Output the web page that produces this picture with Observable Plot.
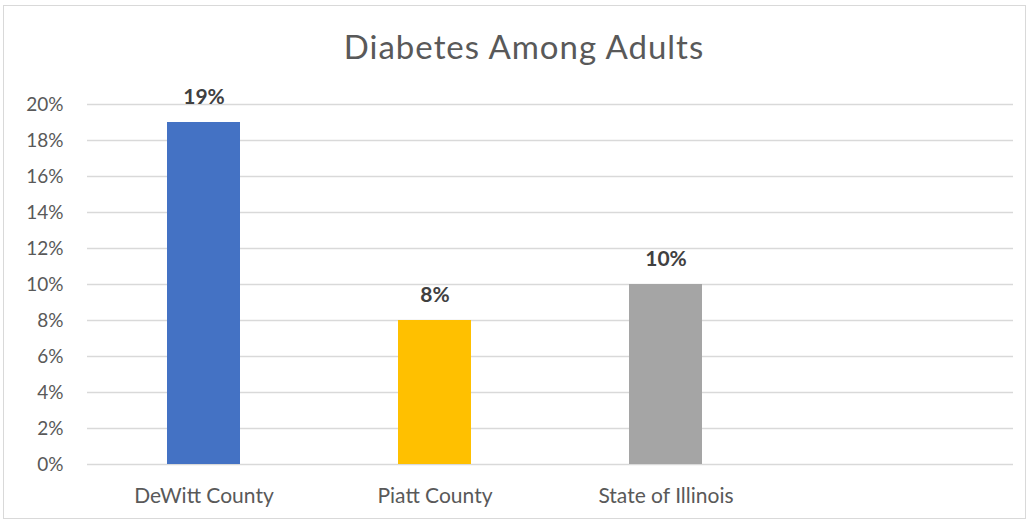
<!DOCTYPE html>
<html>
<head>
<meta charset="utf-8">
<script src="https://cdn.jsdelivr.net/npm/d3@7"></script>
<script src="https://cdn.jsdelivr.net/npm/@observablehq/plot@0.6"></script>
<style>
  html, body { margin: 0; padding: 0; background: #fff; }
  #chart { position: relative; width: 1032px; height: 525px; overflow: hidden; font-family: Lato, "Open Sans", sans-serif; }
  #frame { position: absolute; left: 3px; top: 5px; width: 1023px; height: 514px; border: 1px solid #d9d9d9; box-sizing: border-box; }
  #title { position: absolute; left: 0; width: 1048px; top: 30px; line-height: 33px; text-align: center; font-size: 33px; letter-spacing: 1px; color: #595959; font-weight: 400; }
  #plot { position: absolute; left: 0; top: 0; }
</style>
</head>
<body>
<div id="chart">
  <div id="frame"></div>
  <div id="title">Diabetes Among Adults</div>
  <div id="plot"></div>
</div>
<script>
// Share of adults with diabetes, by area
const categories = ["DeWitt County", "Piatt County", "State of Illinois"];
const rates = [0.19, 0.08, 0.10];
const barColors = ["#4472C4", "#FFC000", "#A5A5A5"];
const yTicks = [0, 0.02, 0.04, 0.06, 0.08, 0.10, 0.12, 0.14, 0.16, 0.18, 0.20];

const rows = categories.map((c, i) => ({category: c, rate: rates[i], color: barColors[i]}));
// the category axis keeps one trailing empty slot
const xDomain = [...categories, " "];
const pct = d3.format(".0%");

const chart = Plot.plot({
  width: 1032,
  height: 525,
  marginTop: 104,
  marginBottom: 61,
  marginLeft: 87,
  marginRight: 19,
  style: {fontFamily: "Lato, 'Open Sans', sans-serif", background: "transparent", overflow: "visible"},
  x: {domain: xDomain, paddingInner: 0.685, paddingOuter: 0.3425, label: null},
  y: {domain: [0, 0.2], label: null},
  marks: [
    Plot.gridY(yTicks, {stroke: "#d9d9d9", strokeOpacity: 1, strokeWidth: 1.3}),
    Plot.barY(rows, {x: "category", y: "rate", fill: "color"}),
    Plot.text(rows, {x: "category", y: "rate", text: d => pct(d.rate), dy: -25, fontSize: 21, fontWeight: "bold", fill: "#404040"}),
    Plot.axisY({ticks: yTicks, tickFormat: pct, tickSize: 0, tickPadding: 24, fontSize: 19, color: "#595959", label: null}),
    Plot.axisX({tickSize: 0, tickPadding: 24, fontSize: 21, color: "#595959", label: null})
  ]
});
document.getElementById("plot").appendChild(chart);
</script>
</body>
</html>
